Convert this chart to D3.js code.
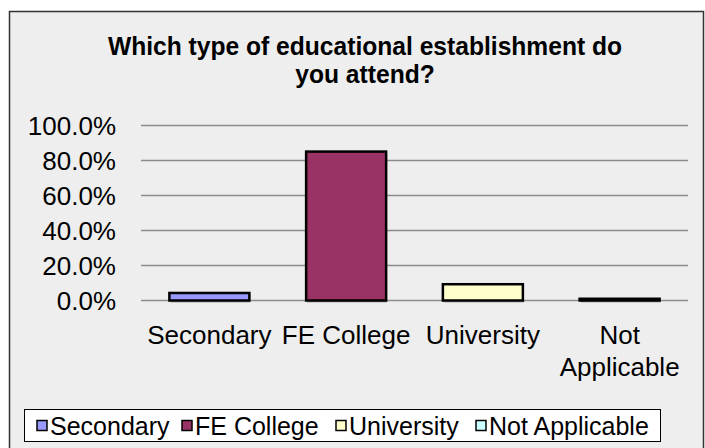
<!DOCTYPE html>
<html lang="en">
    <head>
        <meta charset="utf-8" />
        <title></title>
        <script src="https://cdn.jsdelivr.net/npm/d3@7"></script>
        <style type="text/css">
            body { margin: 0; background: #fff; }
            svg { display: block; font-family: "Liberation Sans", Arial, sans-serif; }
        </style>
    </head>
    <body>
        <script type="text/javascript">
            var categories = ["Secondary", "FE College", "University", "Not Applicable"];
            var values = [4.3, 85.1, 9.3, 1.0]; // percent
            var colours = ["#9999ff", "#993366", "#ffffcc", "#ccffff"];
            var yTicks = [0, 20, 40, 60, 80, 100];
            var titleLines = ["Which type of educational establishment do", "you attend?"];
            // axis labels wrap like excel does
            var catLines = [["Secondary"], ["FE College"], ["University"], ["Not", "Applicable"]];

            var W = 705, H = 448;
            var svg = d3.select("body").append("svg")
                .attr("width", W)
                .attr("height", H);

            // chart area
            svg.append("rect")
                .attr("x", 9.5).attr("y", 11.5)
                .attr("width", 694).attr("height", 460)
                .attr("fill", "#eeeeee")
                .attr("stroke", "#333")
                .attr("stroke-width", 1.5);

            // title, bold but a little condensed
            svg.append("text")
                .attr("transform", "translate(365,0) scale(0.985,1)")
                .attr("text-anchor", "middle")
                .attr("font-size", 25)
                .attr("font-weight", "bold")
                .attr("fill", "#000")
                .selectAll("tspan")
                .data(titleLines)
                .enter()
                .append("tspan")
                .attr("x", 0)
                .attr("y", function (d, i) { return 55 + i * 28; })
                .text(function (d) { return d; });

            var x = d3.scaleBand()
                .domain(categories)
                .range([141, 688])
                .paddingInner(0.415)
                .paddingOuter(0.2075);

            var y = d3.scaleLinear()
                .domain([0, 100])
                .range([300.5, 125.5]);

            // gridlines
            svg.append("g")
                .selectAll("line")
                .data(yTicks)
                .enter()
                .append("line")
                .attr("x1", 141).attr("x2", 688)
                .attr("y1", function (d) { return y(d); })
                .attr("y2", function (d) { return y(d); })
                .attr("stroke", "#8c8c8c")
                .attr("stroke-width", 1.5);

            // y axis labels
            svg.append("g")
                .selectAll("text")
                .data(yTicks)
                .enter()
                .append("text")
                .attr("x", 116)
                .attr("y", function (d) { return y(d) + 9; })
                .attr("text-anchor", "end")
                .attr("font-size", 26)
                .text(function (d) { return d.toFixed(1) + "%"; });

            // bar shadows
            svg.append("g")
                .selectAll("rect")
                .data(values)
                .enter()
                .append("rect")
                .attr("x", function (d, i) { return x(categories[i]) + 1; })
                .attr("y", function (d) { return y(d) + 2; })
                .attr("width", x.bandwidth())
                .attr("height", function (d) { return y(0) - y(d); })
                .attr("fill", "#a8a8a8");

            svg.append("g")
                .selectAll("rect")
                .data(values)
                .enter()
                .append("rect")
                .attr("x", function (d, i) { return x(categories[i]); })
                .attr("y", function (d) { return y(d); })
                .attr("width", x.bandwidth())
                .attr("height", function (d) { return y(0) - y(d); })
                .attr("fill", function (d, i) { return colours[i]; })
                .attr("stroke", "#000")
                .attr("stroke-width", 2.5);

            // category labels
            var cat = svg.append("g")
                .selectAll("text")
                .data(catLines)
                .enter()
                .append("text")
                .attr("text-anchor", "middle")
                .attr("font-size", 26);
            cat.selectAll("tspan")
                .data(function (d, i) { return d.map(function (t) { return { t: t, c: categories[i] }; }); })
                .enter()
                .append("tspan")
                .attr("x", function (d) { return x(d.c) + x.bandwidth() / 2; })
                .attr("y", function (d, j) { return 344 + j * 32; })
                .text(function (d) { return d.t; });

            // legend
            svg.append("rect")
                .attr("x", 24.5).attr("y", 409.5)
                .attr("width", 636).attr("height", 32)
                .attr("fill", "#fff")
                .attr("stroke", "#000")
                .attr("stroke-width", 1);

            var legX = [37, 182, 336, 476];
            var leg = svg.append("g")
                .selectAll("g")
                .data(categories)
                .enter()
                .append("g")
                .attr("transform", function (d, i) { return "translate(" + legX[i] + ",425.5)"; });
            leg.append("rect")
                .attr("x", 0).attr("y", -5)
                .attr("width", 10).attr("height", 10)
                .attr("fill", function (d, i) { return colours[i]; })
                .attr("stroke", "#000")
                .attr("stroke-width", 1.5);
            leg.append("text")
                .attr("x", 13).attr("y", 9)
                .attr("font-size", 25)
                .text(function (d) { return d; });
        </script>
    </body>
</html>
